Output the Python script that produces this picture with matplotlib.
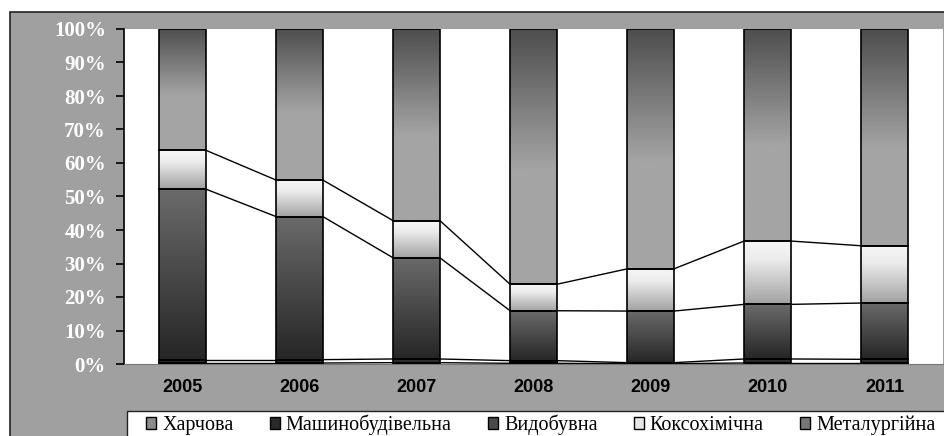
import matplotlib
matplotlib.use("Agg")
import matplotlib.pyplot as plt
import numpy as np
from matplotlib.colors import LinearSegmentedColormap
from matplotlib.patches import Rectangle, Patch

years = ["2005", "2006", "2007", "2008", "2009", "2010", "2011"]
series = ["Харчова", "Машинобудівельна", "Видобувна", "Коксохімічна", "Металургійна"]

# shares, %
harchova = [0.3, 0.3, 0.4, 0.2, 0.1, 0.3, 0.3]
mashbud = [1.0, 1.0, 1.1, 0.8, 0.3, 1.2, 1.1]
vydobuvna = [50.9, 42.7, 30.2, 14.9, 15.4, 16.3, 16.8]
koks = [11.6, 10.9, 11.1, 7.9, 12.6, 18.9, 17.1]
metal = [36.2, 45.1, 57.2, 76.2, 71.6, 63.3, 64.7]

# gradient stops (top -> bottom)
grads = [
    [(0, "#9a9a9a"), (1, "#7a7a7a")],
    [(0, "#3a3a3a"), (1, "#1e1e1e")],
    [(0, "#6a6a6a"), (1, "#262626")],
    [(0, "#f6f6f6"), (0.3, "#ececec"), (1, "#a2a2a2")],
    [(0, "#4e4e4e"), (0.55, "#a4a4a4"), (1, "#a4a4a4")],
]
legend_cols = ["#8c8c8c", "#2a2a2a", "#4a4a4a", "#e6e6e6", "#777777"]

W, H = 944, 436
fig = plt.figure(figsize=(W / 100, H / 100), dpi=100)
fig.patch.set_facecolor("white")

# gray chart area
fig.patches.append(Rectangle((10 / W, -0.1), 1.2, (436 - 12) / H + 0.1,
                             transform=fig.transFigure, facecolor="#a0a0a0",
                             edgecolor="#222222", linewidth=1.2, zorder=0))
# legend box
fig.patches.append(Rectangle((127 / W, -0.1), 1.2, (436 - 411) / H + 0.1,
                             transform=fig.transFigure, facecolor="white",
                             edgecolor="#222222", linewidth=1.0, zorder=1))

ax = fig.add_axes([124 / W, (436 - 364) / H, 819 / W, 335 / H])
ax.set_zorder(3)
ax.set_facecolor("white")

data = np.array([harchova, mashbud, vydobuvna, koks, metal])
x = np.arange(len(years))
width = 0.4
bottom = np.zeros(len(years))
for k, name in enumerate(series):
    cmap = LinearSegmentedColormap.from_list(name, grads[k])
    bars = ax.bar(x, data[k], width, bottom=bottom, facecolor="none",
                  edgecolor="black", linewidth=1.2, zorder=3)
    for r in bars:
        x0, y0, w, h = r.get_x(), r.get_y(), r.get_width(), r.get_height()
        grad = np.linspace(0, 1, 100).reshape(-1, 1)
        im = ax.imshow(grad, cmap=cmap, extent=(x0, x0 + w, y0, y0 + h),
                       aspect="auto", origin="upper", zorder=2, vmin=0, vmax=1)
        im.set_clip_path(r)
    bottom = bottom + data[k]
    if k < len(series) - 1:
        for i in range(len(years) - 1):
            ax.plot([x[i] + width / 2, x[i + 1] - width / 2],
                    [bottom[i], bottom[i + 1]], color="black", lw=1.0, zorder=2.5)

ax.set_xlim(-0.5, len(years) - 0.5)
ax.set_ylim(0, 100)
ax.set_yticks(np.arange(0, 101, 10))
ax.set_yticklabels([f"{v}%" for v in range(0, 101, 10)],
                   family="Liberation Serif", fontweight="bold", fontsize=15,
                   color="white")
ax.set_xticks(x)
ax.set_xticklabels(years, family="Liberation Sans", fontweight="bold", fontsize=13)
ax.tick_params(axis="y", direction="out", length=6, width=1.2, color="black", pad=7)
ax.tick_params(axis="x", length=0, pad=11)
ax.spines["top"].set_visible(False)
ax.spines["right"].set_visible(False)
ax.spines["left"].set_color("black")
ax.spines["left"].set_linewidth(1.2)
ax.spines["bottom"].set_color("#777777")

handles = [Patch(facecolor=c, edgecolor="black", linewidth=1.0) for c in legend_cols]
leg = fig.legend(handles, series, loc="center left",
                 bbox_to_anchor=(146 / W, (436 - 425) / H),
                 ncol=5, frameon=False, prop={"family": "Liberation Serif", "size": 14.5},
                 handlelength=0.5, handleheight=0.5, handletextpad=0.3,
                 columnspacing=1.8, borderpad=0, borderaxespad=0)
leg.set_zorder(4)

fig.savefig("out.png", dpi=100)
